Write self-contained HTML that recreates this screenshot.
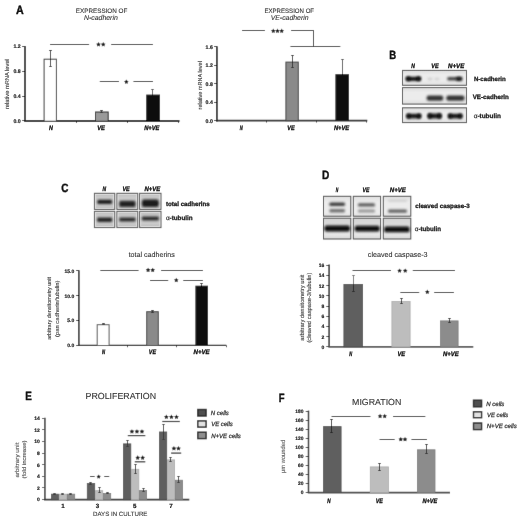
<!DOCTYPE html>
<html><head><meta charset="utf-8"><style>
html,body{margin:0;padding:0;background:#fff;}
svg{display:block;filter:grayscale(1);}
text{font-family:"Liberation Sans", sans-serif;text-rendering:geometricPrecision;}
</style></head><body>
<svg width="520" height="520" viewBox="0 0 520 520">
<defs><filter id="gb" x="0" y="0" width="520" height="520" filterUnits="userSpaceOnUse"><feConvolveMatrix order="3" kernelMatrix="0 1 0 1 10 1 0 1 0" edgeMode="duplicate" preserveAlpha="true"/></filter>
<filter id="bl" x="-30%" y="-80%" width="160%" height="260%"><feGaussianBlur stdDeviation="0.85"/></filter>
<linearGradient id="gB" x1="0" y1="0" x2="0" y2="1"><stop offset="0" stop-color="#dedede"/><stop offset="0.3" stop-color="#ececec"/><stop offset="0.7" stop-color="#ececec"/><stop offset="1" stop-color="#dedede"/></linearGradient>
<linearGradient id="gC" x1="0" y1="0" x2="0" y2="1"><stop offset="0" stop-color="#b8b8b8"/><stop offset="0.25" stop-color="#cbcbcb"/><stop offset="0.75" stop-color="#cbcbcb"/><stop offset="1" stop-color="#b8b8b8"/></linearGradient>
<linearGradient id="gD1" x1="0" y1="0" x2="0" y2="1"><stop offset="0" stop-color="#e0e0e0"/><stop offset="0.3" stop-color="#ececec"/><stop offset="0.8" stop-color="#ececec"/><stop offset="1" stop-color="#e2e2e2"/></linearGradient>
<linearGradient id="gD2" x1="0" y1="0" x2="0" y2="1"><stop offset="0" stop-color="#d4d4d4"/><stop offset="0.4" stop-color="#dcdcdc"/><stop offset="0.8" stop-color="#e6e6e6"/><stop offset="1" stop-color="#d8d8d8"/></linearGradient>
</defs>
<rect width="520" height="520" fill="#fff"/>
<g filter="url(#gb)">
<rect width="520" height="520" fill="#fff"/>
<line x1="25.00" y1="46.00" x2="25.00" y2="121.90" stroke="#2a2a2a" stroke-width="1.8"/>
<line x1="22.10" y1="46.50" x2="25.00" y2="46.50" stroke="#2a2a2a" stroke-width="1"/>
<line x1="22.10" y1="71.50" x2="25.00" y2="71.50" stroke="#2a2a2a" stroke-width="1"/>
<line x1="22.10" y1="96.50" x2="25.00" y2="96.50" stroke="#2a2a2a" stroke-width="1"/>
<line x1="22.10" y1="120.50" x2="25.00" y2="120.50" stroke="#2a2a2a" stroke-width="1"/>
<line x1="24.10" y1="121.00" x2="179.50" y2="121.00" stroke="#2a2a2a" stroke-width="1.8"/>
<line x1="76.50" y1="121.25" x2="76.50" y2="123.00" stroke="#2a2a2a" stroke-width="1"/>
<line x1="127.50" y1="121.25" x2="127.50" y2="123.00" stroke="#2a2a2a" stroke-width="1"/>
<line x1="178.50" y1="121.25" x2="178.50" y2="123.00" stroke="#2a2a2a" stroke-width="1"/>
<line x1="50.50" y1="50.80" x2="50.50" y2="66.00" stroke="#333" stroke-width="1"/>
<line x1="49.20" y1="50.50" x2="51.80" y2="50.50" stroke="#333" stroke-width="1"/>
<line x1="49.20" y1="66.50" x2="51.80" y2="66.50" stroke="#333" stroke-width="1"/>
<rect x="44.10" y="59.20" width="12.30" height="62.05" fill="#fff" stroke="#3a3a3a" stroke-width="1"/>
<line x1="50.50" y1="50.80" x2="50.50" y2="66.00" stroke="#333" stroke-width="1"/>
<line x1="49.20" y1="50.50" x2="51.80" y2="50.50" stroke="#333" stroke-width="1"/>
<line x1="49.20" y1="66.50" x2="51.80" y2="66.50" stroke="#333" stroke-width="1"/>
<rect x="95.50" y="112.00" width="12.70" height="9.25" fill="#9a9a9a" stroke="#2a2a2a" stroke-width="1"/>
<line x1="101.50" y1="110.60" x2="101.50" y2="112.40" stroke="#333" stroke-width="1"/>
<line x1="100.10" y1="110.50" x2="102.90" y2="110.50" stroke="#333" stroke-width="1"/>
<line x1="100.10" y1="112.50" x2="102.90" y2="112.50" stroke="#333" stroke-width="1"/>
<line x1="152.50" y1="89.20" x2="152.50" y2="99.00" stroke="#555" stroke-width="1"/>
<line x1="151.20" y1="89.50" x2="153.80" y2="89.50" stroke="#555" stroke-width="1"/>
<line x1="151.20" y1="98.50" x2="153.80" y2="98.50" stroke="#555" stroke-width="1"/>
<rect x="146.20" y="94.60" width="13.80" height="26.65" fill="#0a0a0a"/>
<line x1="50.00" y1="44.50" x2="89.10" y2="44.50" stroke="#2a2a2a" stroke-width="1"/>
<polygon points="98.48,42.10 99.26,43.43 100.76,43.76 99.74,44.91 99.89,46.44 98.48,45.82 97.07,46.44 97.22,44.91 96.20,43.76 97.70,43.43" fill="#1a1a1a"/>
<polygon points="103.22,42.10 104.00,43.43 105.50,43.76 104.48,44.91 104.63,46.44 103.22,45.82 101.81,46.44 101.96,44.91 100.94,43.76 102.44,43.43" fill="#1a1a1a"/>
<line x1="111.20" y1="44.50" x2="152.90" y2="44.50" stroke="#2a2a2a" stroke-width="1"/>
<line x1="99.80" y1="81.50" x2="119.00" y2="81.50" stroke="#2a2a2a" stroke-width="1"/>
<polygon points="126.35,79.50 127.13,80.83 128.63,81.16 127.61,82.31 127.76,83.84 126.35,83.22 124.94,83.84 125.09,82.31 124.07,81.16 125.57,80.83" fill="#1a1a1a"/>
<line x1="133.50" y1="81.50" x2="153.00" y2="81.50" stroke="#2a2a2a" stroke-width="1"/>
<line x1="216.90" y1="46.20" x2="216.90" y2="121.50" stroke="#2a2a2a" stroke-width="1.8"/>
<line x1="214.00" y1="46.50" x2="216.90" y2="46.50" stroke="#2a2a2a" stroke-width="1"/>
<line x1="214.00" y1="65.50" x2="216.90" y2="65.50" stroke="#2a2a2a" stroke-width="1"/>
<line x1="214.00" y1="83.50" x2="216.90" y2="83.50" stroke="#2a2a2a" stroke-width="1"/>
<line x1="214.00" y1="102.50" x2="216.90" y2="102.50" stroke="#2a2a2a" stroke-width="1"/>
<line x1="214.00" y1="120.50" x2="216.90" y2="120.50" stroke="#2a2a2a" stroke-width="1"/>
<line x1="216.00" y1="120.70" x2="367.30" y2="120.70" stroke="#2a2a2a" stroke-width="1.8"/>
<line x1="266.50" y1="120.70" x2="266.50" y2="122.50" stroke="#2a2a2a" stroke-width="1"/>
<line x1="316.50" y1="120.70" x2="316.50" y2="122.50" stroke="#2a2a2a" stroke-width="1"/>
<line x1="366.50" y1="120.70" x2="366.50" y2="122.50" stroke="#2a2a2a" stroke-width="1"/>
<rect x="285.90" y="62.10" width="12.40" height="58.60" fill="#8a8a8a" stroke="#444" stroke-width="1"/>
<line x1="292.50" y1="55.40" x2="292.50" y2="67.30" stroke="#333" stroke-width="1"/>
<line x1="291.20" y1="55.50" x2="293.80" y2="55.50" stroke="#333" stroke-width="1"/>
<line x1="291.20" y1="67.50" x2="293.80" y2="67.50" stroke="#333" stroke-width="1"/>
<line x1="342.50" y1="59.50" x2="342.50" y2="89.00" stroke="#555" stroke-width="1"/>
<line x1="341.20" y1="59.50" x2="343.80" y2="59.50" stroke="#555" stroke-width="1"/>
<line x1="341.20" y1="88.50" x2="343.80" y2="88.50" stroke="#555" stroke-width="1"/>
<rect x="335.40" y="74.20" width="13.60" height="46.50" fill="#0a0a0a"/>
<line x1="242.00" y1="30.50" x2="264.90" y2="30.50" stroke="#2a2a2a" stroke-width="1"/>
<polygon points="273.28,28.60 274.06,29.93 275.56,30.26 274.54,31.41 274.69,32.94 273.28,32.32 271.87,32.94 272.02,31.41 271.00,30.26 272.50,29.93" fill="#1a1a1a"/>
<polygon points="277.50,28.60 278.28,29.93 279.78,30.26 278.76,31.41 278.91,32.94 277.50,32.32 276.09,32.94 276.24,31.41 275.22,30.26 276.72,29.93" fill="#1a1a1a"/>
<polygon points="281.72,28.60 282.50,29.93 284.00,30.26 282.98,31.41 283.13,32.94 281.72,32.32 280.31,32.94 280.46,31.41 279.44,30.26 280.94,29.93" fill="#1a1a1a"/>
<line x1="291.10" y1="30.50" x2="313.80" y2="30.50" stroke="#2a2a2a" stroke-width="1"/>
<line x1="313.50" y1="30.50" x2="313.50" y2="46.20" stroke="#2a2a2a" stroke-width="1"/>
<line x1="290.50" y1="46.50" x2="340.30" y2="46.50" stroke="#2a2a2a" stroke-width="1"/>
<rect x="402.50" y="70.40" width="64.00" height="14.90" fill="url(#gB)" stroke="#4a4a4a" stroke-width="1.0"/>
<rect x="402.50" y="87.60" width="64.00" height="16.50" fill="url(#gB)" stroke="#4a4a4a" stroke-width="1.0"/>
<rect x="402.50" y="107.80" width="64.00" height="14.80" fill="url(#gB)" stroke="#4a4a4a" stroke-width="1.0"/>
<rect x="405.90" y="76.70" width="15.00" height="4.20" rx="1.68" ry="2.10" fill="#141414" opacity="1.0" filter="url(#bl)"/>
<rect x="405.90" y="76.50" width="4.70" height="4.60" rx="1.84" ry="2.30" fill="#0a0a0a" opacity="1.0" filter="url(#bl)"/>
<rect x="416.20" y="76.50" width="4.70" height="4.60" rx="1.84" ry="2.30" fill="#0a0a0a" opacity="1.0" filter="url(#bl)"/>
<rect x="427.40" y="77.50" width="5.20" height="3.00" rx="1.20" ry="1.50" fill="#cfcfcf" opacity="0.9" filter="url(#bl)"/>
<rect x="434.40" y="77.50" width="5.20" height="3.00" rx="1.20" ry="1.50" fill="#d2d2d2" opacity="0.9" filter="url(#bl)"/>
<rect x="447.20" y="77.10" width="15.00" height="3.40" rx="1.36" ry="1.70" fill="#444" opacity="1" filter="url(#bl)"/>
<rect x="455.90" y="76.70" width="6.30" height="4.20" rx="1.68" ry="2.10" fill="#1a1a1a" opacity="0.9" filter="url(#bl)"/>
<rect x="426.60" y="95.40" width="16.70" height="5.40" rx="2.16" ry="2.70" fill="#333" opacity="1.0" filter="url(#bl)"/>
<rect x="446.30" y="95.40" width="18.20" height="5.40" rx="2.16" ry="2.70" fill="#333" opacity="1.0" filter="url(#bl)"/>
<rect x="406.40" y="113.80" width="14.80" height="4.60" rx="1.84" ry="2.30" fill="#151515" opacity="1.0" filter="url(#bl)"/>
<rect x="406.40" y="113.60" width="4.20" height="5.00" rx="2.00" ry="2.50" fill="#0a0a0a" opacity="1.0" filter="url(#bl)"/>
<rect x="417.00" y="113.60" width="4.20" height="5.00" rx="2.00" ry="2.50" fill="#0a0a0a" opacity="1.0" filter="url(#bl)"/>
<rect x="427.60" y="113.60" width="14.00" height="5.00" rx="2.00" ry="2.50" fill="#151515" opacity="1.0" filter="url(#bl)"/>
<rect x="427.60" y="113.30" width="4.20" height="5.40" rx="2.16" ry="2.70" fill="#0a0a0a" opacity="1.0" filter="url(#bl)"/>
<rect x="437.40" y="113.30" width="4.20" height="5.40" rx="2.16" ry="2.70" fill="#0a0a0a" opacity="1.0" filter="url(#bl)"/>
<rect x="448.00" y="113.80" width="14.40" height="4.60" rx="1.84" ry="2.30" fill="#151515" opacity="1.0" filter="url(#bl)"/>
<rect x="448.00" y="113.60" width="4.20" height="5.00" rx="2.00" ry="2.50" fill="#0a0a0a" opacity="1.0" filter="url(#bl)"/>
<rect x="458.20" y="113.60" width="4.20" height="5.00" rx="2.00" ry="2.50" fill="#0a0a0a" opacity="1.0" filter="url(#bl)"/>
<rect x="94.40" y="193.30" width="20.35" height="16.10" fill="url(#gC)" stroke="#505050" stroke-width="1.0"/>
<rect x="95.50" y="194.40" width="18.15" height="13.90" fill="none" stroke="#e6e6e6" stroke-width="0.8"/>
<rect x="94.40" y="211.30" width="20.35" height="16.30" fill="url(#gC)" stroke="#505050" stroke-width="1.0"/>
<rect x="95.50" y="212.40" width="18.15" height="14.10" fill="none" stroke="#e6e6e6" stroke-width="0.8"/>
<rect x="116.90" y="193.30" width="20.85" height="16.10" fill="url(#gC)" stroke="#505050" stroke-width="1.0"/>
<rect x="118.00" y="194.40" width="18.65" height="13.90" fill="none" stroke="#e6e6e6" stroke-width="0.8"/>
<rect x="116.90" y="211.30" width="20.85" height="16.30" fill="url(#gC)" stroke="#505050" stroke-width="1.0"/>
<rect x="118.00" y="212.40" width="18.65" height="14.10" fill="none" stroke="#e6e6e6" stroke-width="0.8"/>
<rect x="139.60" y="193.30" width="21.40" height="16.10" fill="url(#gC)" stroke="#505050" stroke-width="1.0"/>
<rect x="140.70" y="194.40" width="19.20" height="13.90" fill="none" stroke="#e6e6e6" stroke-width="0.8"/>
<rect x="139.60" y="211.30" width="21.40" height="16.30" fill="url(#gC)" stroke="#505050" stroke-width="1.0"/>
<rect x="140.70" y="212.40" width="19.20" height="14.10" fill="none" stroke="#e6e6e6" stroke-width="0.8"/>
<rect x="97.20" y="199.70" width="15.00" height="4.40" rx="1.10" ry="2.20" fill="#1e1e1e" opacity="1" filter="url(#bl)"/>
<rect x="119.20" y="200.70" width="16.40" height="6.40" rx="1.60" ry="3.20" fill="#222" opacity="1" filter="url(#bl)"/>
<rect x="141.80" y="199.50" width="17.10" height="7.60" rx="1.90" ry="3.80" fill="#1c1c1c" opacity="1" filter="url(#bl)"/>
<rect x="97.00" y="217.50" width="15.40" height="4.60" rx="1.38" ry="2.30" fill="#222" opacity="1" filter="url(#bl)"/>
<rect x="119.20" y="217.60" width="16.40" height="4.00" rx="1.00" ry="2.00" fill="#2a2a2a" opacity="1" filter="url(#bl)"/>
<rect x="141.80" y="216.40" width="17.10" height="4.00" rx="1.00" ry="2.00" fill="#2a2a2a" opacity="1" filter="url(#bl)"/>
<line x1="78.90" y1="270.20" x2="78.90" y2="346.10" stroke="#111" stroke-width="1.4"/>
<line x1="76.20" y1="270.50" x2="78.90" y2="270.50" stroke="#111" stroke-width="1"/>
<line x1="76.20" y1="295.50" x2="78.90" y2="295.50" stroke="#111" stroke-width="1"/>
<line x1="76.20" y1="320.50" x2="78.90" y2="320.50" stroke="#111" stroke-width="1"/>
<line x1="76.20" y1="345.50" x2="78.90" y2="345.50" stroke="#111" stroke-width="1"/>
<line x1="78.20" y1="345.45" x2="226.30" y2="345.45" stroke="#111" stroke-width="1.3"/>
<line x1="127.50" y1="345.50" x2="127.50" y2="347.20" stroke="#2a2a2a" stroke-width="1"/>
<line x1="176.50" y1="345.50" x2="176.50" y2="347.20" stroke="#2a2a2a" stroke-width="1"/>
<line x1="226.50" y1="345.50" x2="226.50" y2="347.20" stroke="#2a2a2a" stroke-width="1"/>
<rect x="97.20" y="324.70" width="11.90" height="20.80" fill="#fff" stroke="#555" stroke-width="1"/>
<line x1="103.50" y1="323.40" x2="103.50" y2="325.00" stroke="#333" stroke-width="1"/>
<line x1="102.20" y1="323.50" x2="104.80" y2="323.50" stroke="#333" stroke-width="1"/>
<line x1="102.20" y1="324.50" x2="104.80" y2="324.50" stroke="#333" stroke-width="1"/>
<rect x="146.70" y="311.70" width="11.60" height="33.80" fill="#8a8a8a" stroke="#444" stroke-width="1"/>
<line x1="152.50" y1="310.20" x2="152.50" y2="312.40" stroke="#333" stroke-width="1"/>
<line x1="151.20" y1="310.50" x2="153.80" y2="310.50" stroke="#333" stroke-width="1"/>
<line x1="151.20" y1="312.50" x2="153.80" y2="312.50" stroke="#333" stroke-width="1"/>
<line x1="201.50" y1="283.70" x2="201.50" y2="288.00" stroke="#333" stroke-width="1"/>
<line x1="200.20" y1="283.50" x2="202.80" y2="283.50" stroke="#333" stroke-width="1"/>
<line x1="200.20" y1="288.50" x2="202.80" y2="288.50" stroke="#333" stroke-width="1"/>
<rect x="195.40" y="285.70" width="12.60" height="59.80" fill="#0a0a0a"/>
<line x1="100.40" y1="270.50" x2="138.50" y2="270.50" stroke="#2a2a2a" stroke-width="1"/>
<polygon points="148.08,267.70 148.86,269.03 150.36,269.36 149.34,270.51 149.49,272.04 148.08,271.42 146.67,272.04 146.82,270.51 145.80,269.36 147.30,269.03" fill="#1a1a1a"/>
<polygon points="152.72,267.70 153.50,269.03 155.00,269.36 153.98,270.51 154.13,272.04 152.72,271.42 151.31,272.04 151.46,270.51 150.44,269.36 151.94,269.03" fill="#1a1a1a"/>
<line x1="161.10" y1="270.50" x2="202.90" y2="270.50" stroke="#2a2a2a" stroke-width="1"/>
<line x1="150.00" y1="280.50" x2="168.20" y2="280.50" stroke="#2a2a2a" stroke-width="1"/>
<polygon points="176.25,277.80 177.03,279.13 178.53,279.46 177.51,280.61 177.66,282.14 176.25,281.52 174.84,282.14 174.99,280.61 173.97,279.46 175.47,279.13" fill="#1a1a1a"/>
<line x1="183.30" y1="280.50" x2="202.90" y2="280.50" stroke="#2a2a2a" stroke-width="1"/>
<rect x="323.50" y="196.30" width="27.30" height="19.90" fill="url(#gD1)" stroke="#4a4a4a" stroke-width="1.0"/>
<rect x="323.50" y="218.20" width="27.30" height="20.80" fill="url(#gD2)" stroke="#4a4a4a" stroke-width="1.0"/>
<rect x="353.30" y="196.30" width="27.30" height="19.90" fill="url(#gD1)" stroke="#4a4a4a" stroke-width="1.0"/>
<rect x="353.30" y="218.20" width="27.30" height="20.80" fill="url(#gD2)" stroke="#4a4a4a" stroke-width="1.0"/>
<rect x="383.30" y="196.30" width="27.50" height="19.90" fill="url(#gD1)" stroke="#4a4a4a" stroke-width="1.0"/>
<rect x="383.30" y="218.20" width="27.50" height="20.80" fill="url(#gD2)" stroke="#4a4a4a" stroke-width="1.0"/>
<rect x="329.30" y="202.50" width="15.80" height="3.40" rx="1.36" ry="1.70" fill="#3a3a3a" opacity="1.0" filter="url(#bl)"/>
<rect x="329.30" y="209.00" width="15.80" height="3.40" rx="1.36" ry="1.70" fill="#707070" opacity="1.0" filter="url(#bl)"/>
<rect x="357.90" y="203.30" width="17.20" height="3.20" rx="1.28" ry="1.60" fill="#5a5a5a" opacity="1.0" filter="url(#bl)"/>
<rect x="357.90" y="209.40" width="17.20" height="3.20" rx="1.28" ry="1.60" fill="#939393" opacity="1.0" filter="url(#bl)"/>
<rect x="387.90" y="199.50" width="19.20" height="2.20" rx="0.88" ry="1.10" fill="#cfcfcf" opacity="1.0" filter="url(#bl)"/>
<rect x="387.90" y="209.40" width="19.20" height="3.40" rx="1.36" ry="1.70" fill="#5f5f5f" opacity="1.0" filter="url(#bl)"/>
<rect x="324.40" y="225.60" width="25.70" height="5.80" rx="2.32" ry="2.90" fill="#0d0d0d" opacity="1.0" filter="url(#bl)"/>
<rect x="354.60" y="225.70" width="25.20" height="5.80" rx="2.32" ry="2.90" fill="#0d0d0d" opacity="1.0" filter="url(#bl)"/>
<rect x="384.10" y="226.50" width="25.60" height="5.80" rx="2.32" ry="2.90" fill="#0d0d0d" opacity="1.0" filter="url(#bl)"/>
<line x1="329.10" y1="264.60" x2="329.10" y2="346.50" stroke="#333" stroke-width="1.6"/>
<line x1="326.30" y1="346.50" x2="329.10" y2="346.50" stroke="#333" stroke-width="1"/>
<line x1="326.30" y1="336.50" x2="329.10" y2="336.50" stroke="#333" stroke-width="1"/>
<line x1="326.30" y1="326.50" x2="329.10" y2="326.50" stroke="#333" stroke-width="1"/>
<line x1="326.30" y1="316.50" x2="329.10" y2="316.50" stroke="#333" stroke-width="1"/>
<line x1="326.30" y1="306.50" x2="329.10" y2="306.50" stroke="#333" stroke-width="1"/>
<line x1="326.30" y1="295.50" x2="329.10" y2="295.50" stroke="#333" stroke-width="1"/>
<line x1="326.30" y1="285.50" x2="329.10" y2="285.50" stroke="#333" stroke-width="1"/>
<line x1="326.30" y1="275.50" x2="329.10" y2="275.50" stroke="#333" stroke-width="1"/>
<line x1="326.30" y1="265.50" x2="329.10" y2="265.50" stroke="#333" stroke-width="1"/>
<line x1="328.30" y1="346.80" x2="473.30" y2="346.80" stroke="#555" stroke-width="1.7"/>
<line x1="353.50" y1="275.80" x2="353.50" y2="291.20" stroke="#777" stroke-width="1"/>
<line x1="352.20" y1="275.50" x2="354.80" y2="275.50" stroke="#777" stroke-width="1"/>
<line x1="352.20" y1="291.50" x2="354.80" y2="291.50" stroke="#777" stroke-width="1"/>
<rect x="343.90" y="284.40" width="18.70" height="62.50" fill="#5e5e5e" stroke="#4a4a4a" stroke-width="0.8"/>
<line x1="353.50" y1="284.50" x2="353.50" y2="291.20" stroke="#2a2a2a" stroke-width="1"/>
<line x1="352.00" y1="291.50" x2="354.80" y2="291.50" stroke="#2a2a2a" stroke-width="1"/>
<rect x="391.90" y="301.50" width="18.20" height="45.40" fill="#bdbdbd" stroke="#ababab" stroke-width="0.8"/>
<line x1="401.50" y1="298.00" x2="401.50" y2="303.80" stroke="#333" stroke-width="1"/>
<line x1="400.20" y1="298.50" x2="402.80" y2="298.50" stroke="#333" stroke-width="1"/>
<line x1="400.20" y1="303.50" x2="402.80" y2="303.50" stroke="#333" stroke-width="1"/>
<rect x="440.50" y="320.90" width="17.60" height="26.00" fill="#8c8c8c" stroke="#7a7a7a" stroke-width="0.8"/>
<line x1="449.50" y1="318.20" x2="449.50" y2="322.20" stroke="#333" stroke-width="1"/>
<line x1="448.20" y1="318.50" x2="450.80" y2="318.50" stroke="#333" stroke-width="1"/>
<line x1="448.20" y1="322.50" x2="450.80" y2="322.50" stroke="#333" stroke-width="1"/>
<line x1="352.60" y1="270.50" x2="391.00" y2="270.50" stroke="#2a2a2a" stroke-width="1"/>
<polygon points="399.58,268.40 400.36,269.73 401.86,270.06 400.84,271.21 400.99,272.74 399.58,272.12 398.17,272.74 398.32,271.21 397.30,270.06 398.80,269.73" fill="#1a1a1a"/>
<polygon points="405.22,268.40 406.00,269.73 407.50,270.06 406.48,271.21 406.63,272.74 405.22,272.12 403.81,272.74 403.96,271.21 402.94,270.06 404.44,269.73" fill="#1a1a1a"/>
<line x1="412.80" y1="270.50" x2="455.00" y2="270.50" stroke="#2a2a2a" stroke-width="1"/>
<line x1="400.40" y1="292.50" x2="419.20" y2="292.50" stroke="#2a2a2a" stroke-width="1"/>
<polygon points="427.30,289.60 428.08,290.93 429.58,291.26 428.56,292.41 428.71,293.94 427.30,293.32 425.89,293.94 426.04,292.41 425.02,291.26 426.52,290.93" fill="#1a1a1a"/>
<line x1="434.20" y1="292.50" x2="453.90" y2="292.50" stroke="#2a2a2a" stroke-width="1"/>
<line x1="44.90" y1="417.80" x2="44.90" y2="499.00" stroke="#555" stroke-width="1.8"/>
<line x1="42.00" y1="499.50" x2="44.90" y2="499.50" stroke="#555" stroke-width="1"/>
<line x1="42.00" y1="487.50" x2="44.90" y2="487.50" stroke="#555" stroke-width="1"/>
<line x1="42.00" y1="476.50" x2="44.90" y2="476.50" stroke="#555" stroke-width="1"/>
<line x1="42.00" y1="464.50" x2="44.90" y2="464.50" stroke="#555" stroke-width="1"/>
<line x1="42.00" y1="453.50" x2="44.90" y2="453.50" stroke="#555" stroke-width="1"/>
<line x1="42.00" y1="441.50" x2="44.90" y2="441.50" stroke="#555" stroke-width="1"/>
<line x1="42.00" y1="429.50" x2="44.90" y2="429.50" stroke="#555" stroke-width="1"/>
<line x1="42.00" y1="418.50" x2="44.90" y2="418.50" stroke="#555" stroke-width="1"/>
<line x1="44.00" y1="499.60" x2="189.30" y2="499.60" stroke="#333" stroke-width="1.6"/>
<rect x="51.50" y="494.19" width="7.00" height="5.51" fill="#5e5e5e" stroke="#4a4a4a" stroke-width="0.8"/>
<rect x="59.30" y="494.19" width="7.30" height="5.51" fill="#bdbdbd" stroke="#ababab" stroke-width="0.8"/>
<rect x="67.40" y="494.19" width="7.30" height="5.51" fill="#8c8c8c" stroke="#7a7a7a" stroke-width="0.8"/>
<rect x="87.30" y="483.55" width="7.40" height="16.15" fill="#5e5e5e" stroke="#4a4a4a" stroke-width="0.8"/>
<rect x="95.50" y="490.70" width="7.20" height="9.00" fill="#bdbdbd" stroke="#ababab" stroke-width="0.8"/>
<rect x="103.50" y="493.49" width="7.20" height="6.21" fill="#8c8c8c" stroke="#7a7a7a" stroke-width="0.8"/>
<rect x="123.50" y="443.89" width="7.30" height="55.81" fill="#5e5e5e" stroke="#4a4a4a" stroke-width="0.8"/>
<rect x="131.60" y="469.30" width="7.20" height="30.40" fill="#bdbdbd" stroke="#ababab" stroke-width="0.8"/>
<rect x="139.60" y="490.41" width="7.00" height="9.29" fill="#8c8c8c" stroke="#7a7a7a" stroke-width="0.8"/>
<rect x="159.50" y="431.98" width="7.20" height="67.72" fill="#5e5e5e" stroke="#4a4a4a" stroke-width="0.8"/>
<rect x="167.50" y="459.88" width="7.10" height="39.82" fill="#bdbdbd" stroke="#ababab" stroke-width="0.8"/>
<rect x="175.40" y="480.23" width="7.20" height="19.47" fill="#8c8c8c" stroke="#7a7a7a" stroke-width="0.8"/>
<line x1="54.50" y1="493.50" x2="54.50" y2="494.08" stroke="#3a3a3a" stroke-width="1"/>
<line x1="53.30" y1="493.50" x2="55.70" y2="493.50" stroke="#3a3a3a" stroke-width="1"/>
<line x1="53.30" y1="494.50" x2="55.70" y2="494.50" stroke="#3a3a3a" stroke-width="1"/>
<line x1="62.50" y1="493.50" x2="62.50" y2="494.08" stroke="#3a3a3a" stroke-width="1"/>
<line x1="61.30" y1="493.50" x2="63.70" y2="493.50" stroke="#3a3a3a" stroke-width="1"/>
<line x1="61.30" y1="494.50" x2="63.70" y2="494.50" stroke="#3a3a3a" stroke-width="1"/>
<line x1="70.50" y1="493.50" x2="70.50" y2="494.08" stroke="#3a3a3a" stroke-width="1"/>
<line x1="69.30" y1="493.50" x2="71.70" y2="493.50" stroke="#3a3a3a" stroke-width="1"/>
<line x1="69.30" y1="494.50" x2="71.70" y2="494.50" stroke="#3a3a3a" stroke-width="1"/>
<line x1="90.50" y1="482.16" x2="90.50" y2="484.19" stroke="#3a3a3a" stroke-width="1"/>
<line x1="89.30" y1="482.50" x2="91.70" y2="482.50" stroke="#3a3a3a" stroke-width="1"/>
<line x1="89.30" y1="484.50" x2="91.70" y2="484.50" stroke="#3a3a3a" stroke-width="1"/>
<line x1="99.50" y1="487.97" x2="99.50" y2="492.62" stroke="#3a3a3a" stroke-width="1"/>
<line x1="98.30" y1="487.50" x2="100.70" y2="487.50" stroke="#3a3a3a" stroke-width="1"/>
<line x1="98.30" y1="492.50" x2="100.70" y2="492.50" stroke="#3a3a3a" stroke-width="1"/>
<line x1="107.50" y1="492.62" x2="107.50" y2="493.55" stroke="#3a3a3a" stroke-width="1"/>
<line x1="106.30" y1="492.50" x2="108.70" y2="492.50" stroke="#3a3a3a" stroke-width="1"/>
<line x1="106.30" y1="493.50" x2="108.70" y2="493.50" stroke="#3a3a3a" stroke-width="1"/>
<line x1="127.50" y1="440.88" x2="127.50" y2="446.11" stroke="#3a3a3a" stroke-width="1"/>
<line x1="126.30" y1="440.50" x2="128.70" y2="440.50" stroke="#3a3a3a" stroke-width="1"/>
<line x1="126.30" y1="446.50" x2="128.70" y2="446.50" stroke="#3a3a3a" stroke-width="1"/>
<line x1="135.50" y1="464.72" x2="135.50" y2="473.44" stroke="#3a3a3a" stroke-width="1"/>
<line x1="134.30" y1="464.50" x2="136.70" y2="464.50" stroke="#3a3a3a" stroke-width="1"/>
<line x1="134.30" y1="473.50" x2="136.70" y2="473.50" stroke="#3a3a3a" stroke-width="1"/>
<line x1="143.50" y1="488.55" x2="143.50" y2="491.46" stroke="#3a3a3a" stroke-width="1"/>
<line x1="142.30" y1="488.50" x2="144.70" y2="488.50" stroke="#3a3a3a" stroke-width="1"/>
<line x1="142.30" y1="491.50" x2="144.70" y2="491.50" stroke="#3a3a3a" stroke-width="1"/>
<line x1="163.50" y1="424.60" x2="163.50" y2="439.72" stroke="#3a3a3a" stroke-width="1"/>
<line x1="162.30" y1="424.50" x2="164.70" y2="424.50" stroke="#3a3a3a" stroke-width="1"/>
<line x1="162.30" y1="439.50" x2="164.70" y2="439.50" stroke="#3a3a3a" stroke-width="1"/>
<line x1="170.50" y1="457.16" x2="170.50" y2="461.81" stroke="#3a3a3a" stroke-width="1"/>
<line x1="169.30" y1="457.50" x2="171.70" y2="457.50" stroke="#3a3a3a" stroke-width="1"/>
<line x1="169.30" y1="461.50" x2="171.70" y2="461.50" stroke="#3a3a3a" stroke-width="1"/>
<line x1="178.50" y1="476.93" x2="178.50" y2="482.74" stroke="#3a3a3a" stroke-width="1"/>
<line x1="177.30" y1="476.50" x2="179.70" y2="476.50" stroke="#3a3a3a" stroke-width="1"/>
<line x1="177.30" y1="482.50" x2="179.70" y2="482.50" stroke="#3a3a3a" stroke-width="1"/>
<line x1="90.00" y1="476.50" x2="94.60" y2="476.50" stroke="#2a2a2a" stroke-width="1"/>
<polygon points="98.70,474.40 99.44,475.68 100.89,475.99 99.90,477.09 100.05,478.56 98.70,477.96 97.35,478.56 97.50,477.09 96.51,475.99 97.96,475.68" fill="#1a1a1a"/>
<line x1="104.30" y1="476.50" x2="109.20" y2="476.50" stroke="#2a2a2a" stroke-width="1"/>
<polygon points="131.93,429.15 132.72,430.51 134.26,430.84 133.21,432.02 133.37,433.58 131.93,432.95 130.49,433.58 130.65,432.02 129.60,430.84 131.14,430.51" fill="#1a1a1a"/>
<polygon points="136.95,429.15 137.74,430.51 139.28,430.84 138.23,432.02 138.39,433.58 136.95,432.95 135.51,433.58 135.67,432.02 134.62,430.84 136.16,430.51" fill="#1a1a1a"/>
<polygon points="141.97,429.15 142.76,430.51 144.30,430.84 143.25,432.02 143.41,433.58 141.97,432.95 140.53,433.58 140.69,432.02 139.64,430.84 141.18,430.51" fill="#1a1a1a"/>
<line x1="127.80" y1="435.60" x2="145.30" y2="435.60" stroke="#2a2a2a" stroke-width="1.2"/>
<polygon points="137.73,455.35 138.52,456.71 140.06,457.04 139.01,458.22 139.17,459.78 137.73,459.15 136.29,459.78 136.45,458.22 135.40,457.04 136.94,456.71" fill="#1a1a1a"/>
<polygon points="142.67,455.35 143.46,456.71 145.00,457.04 143.95,458.22 144.11,459.78 142.67,459.15 141.23,459.78 141.39,458.22 140.34,457.04 141.88,456.71" fill="#1a1a1a"/>
<line x1="134.80" y1="461.80" x2="145.30" y2="461.80" stroke="#2a2a2a" stroke-width="1.2"/>
<polygon points="166.33,414.55 167.12,415.91 168.66,416.24 167.61,417.42 167.77,418.98 166.33,418.35 164.89,418.98 165.05,417.42 164.00,416.24 165.54,415.91" fill="#1a1a1a"/>
<polygon points="171.40,414.55 172.19,415.91 173.73,416.24 172.68,417.42 172.84,418.98 171.40,418.35 169.96,418.98 170.12,417.42 169.07,416.24 170.61,415.91" fill="#1a1a1a"/>
<polygon points="176.47,414.55 177.26,415.91 178.80,416.24 177.75,417.42 177.91,418.98 176.47,418.35 175.03,418.98 175.19,417.42 174.14,416.24 175.68,415.91" fill="#1a1a1a"/>
<line x1="162.30" y1="421.50" x2="179.80" y2="421.50" stroke="#2a2a2a" stroke-width="1.2"/>
<polygon points="173.93,446.05 174.72,447.41 176.26,447.74 175.21,448.92 175.37,450.48 173.93,449.85 172.49,450.48 172.65,448.92 171.60,447.74 173.14,447.41" fill="#1a1a1a"/>
<polygon points="178.47,446.05 179.26,447.41 180.80,447.74 179.75,448.92 179.91,450.48 178.47,449.85 177.03,450.48 177.19,448.92 176.14,447.74 177.68,447.41" fill="#1a1a1a"/>
<line x1="171.10" y1="453.10" x2="181.20" y2="453.10" stroke="#2a2a2a" stroke-width="1.2"/>
<rect x="197.80" y="409.50" width="8.30" height="6.50" fill="#505050" stroke="#222" stroke-width="1.4"/>
<rect x="197.80" y="420.90" width="8.30" height="6.20" fill="#e2e2e2" stroke="#222" stroke-width="1.4"/>
<rect x="197.80" y="432.20" width="8.30" height="6.40" fill="#8e8e8e" stroke="#222" stroke-width="1.4"/>
<line x1="308.50" y1="410.60" x2="308.50" y2="492.00" stroke="#333" stroke-width="1.5"/>
<line x1="305.75" y1="492.50" x2="308.50" y2="492.50" stroke="#333" stroke-width="1"/>
<line x1="305.75" y1="483.50" x2="308.50" y2="483.50" stroke="#333" stroke-width="1"/>
<line x1="305.75" y1="474.50" x2="308.50" y2="474.50" stroke="#333" stroke-width="1"/>
<line x1="305.75" y1="465.50" x2="308.50" y2="465.50" stroke="#333" stroke-width="1"/>
<line x1="305.75" y1="456.50" x2="308.50" y2="456.50" stroke="#333" stroke-width="1"/>
<line x1="305.75" y1="447.50" x2="308.50" y2="447.50" stroke="#333" stroke-width="1"/>
<line x1="305.75" y1="438.50" x2="308.50" y2="438.50" stroke="#333" stroke-width="1"/>
<line x1="305.75" y1="429.50" x2="308.50" y2="429.50" stroke="#333" stroke-width="1"/>
<line x1="305.75" y1="420.50" x2="308.50" y2="420.50" stroke="#333" stroke-width="1"/>
<line x1="305.75" y1="411.50" x2="308.50" y2="411.50" stroke="#333" stroke-width="1"/>
<line x1="307.80" y1="492.60" x2="450.00" y2="492.60" stroke="#444" stroke-width="1.6"/>
<rect x="323.50" y="426.60" width="17.60" height="66.00" fill="#5e5e5e" stroke="#4a4a4a" stroke-width="0.8"/>
<line x1="331.50" y1="419.40" x2="331.50" y2="432.50" stroke="#222" stroke-width="1"/>
<line x1="330.20" y1="419.50" x2="332.80" y2="419.50" stroke="#222" stroke-width="1"/>
<line x1="330.20" y1="432.50" x2="332.80" y2="432.50" stroke="#222" stroke-width="1"/>
<rect x="370.30" y="466.90" width="18.20" height="25.70" fill="#bdbdbd" stroke="#ababab" stroke-width="0.8"/>
<line x1="379.50" y1="463.10" x2="379.50" y2="470.00" stroke="#333" stroke-width="1"/>
<line x1="378.20" y1="463.50" x2="380.80" y2="463.50" stroke="#333" stroke-width="1"/>
<line x1="378.20" y1="470.50" x2="380.80" y2="470.50" stroke="#333" stroke-width="1"/>
<rect x="417.40" y="449.80" width="17.60" height="42.80" fill="#8c8c8c" stroke="#7a7a7a" stroke-width="0.8"/>
<line x1="426.50" y1="444.90" x2="426.50" y2="453.80" stroke="#333" stroke-width="1"/>
<line x1="425.20" y1="444.50" x2="427.80" y2="444.50" stroke="#333" stroke-width="1"/>
<line x1="425.20" y1="453.50" x2="427.80" y2="453.50" stroke="#333" stroke-width="1"/>
<line x1="331.60" y1="416.50" x2="370.40" y2="416.50" stroke="#2a2a2a" stroke-width="1"/>
<polygon points="380.08,413.80 380.86,415.13 382.36,415.46 381.34,416.61 381.49,418.14 380.08,417.52 378.67,418.14 378.82,416.61 377.80,415.46 379.30,415.13" fill="#1a1a1a"/>
<polygon points="384.72,413.80 385.50,415.13 387.00,415.46 385.98,416.61 386.13,418.14 384.72,417.52 383.31,418.14 383.46,416.61 382.44,415.46 383.94,415.13" fill="#1a1a1a"/>
<line x1="393.00" y1="416.50" x2="425.30" y2="416.50" stroke="#2a2a2a" stroke-width="1"/>
<line x1="379.60" y1="439.50" x2="394.60" y2="439.50" stroke="#2a2a2a" stroke-width="1"/>
<polygon points="400.78,437.00 401.56,438.33 403.06,438.66 402.04,439.81 402.19,441.34 400.78,440.72 399.37,441.34 399.52,439.81 398.50,438.66 400.00,438.33" fill="#1a1a1a"/>
<polygon points="405.02,437.00 405.80,438.33 407.30,438.66 406.28,439.81 406.43,441.34 405.02,440.72 403.61,441.34 403.76,439.81 402.74,438.66 404.24,438.33" fill="#1a1a1a"/>
<line x1="411.50" y1="439.50" x2="427.00" y2="439.50" stroke="#2a2a2a" stroke-width="1"/>
<rect x="473.50" y="400.20" width="8.10" height="6.60" fill="#505050" stroke="#222" stroke-width="1.4"/>
<rect x="473.50" y="411.80" width="8.10" height="5.90" fill="#e2e2e2" stroke="#222" stroke-width="1.4"/>
<rect x="473.50" y="423.00" width="8.10" height="6.60" fill="#8e8e8e" stroke="#222" stroke-width="1.4"/>
</g>
<text x="16.05" y="14.30" font-size="12" font-weight="bold" font-style="normal" fill="#111" stroke="#111" stroke-width="0.4" textLength="7.70" lengthAdjust="spacingAndGlyphs">A</text>
<text x="75.75" y="12.50" font-size="6.4" font-weight="normal" font-style="normal" fill="#333" stroke="#333" stroke-width="0.1" textLength="51.60" lengthAdjust="spacingAndGlyphs">EXPRESSION OF</text>
<text x="83.90" y="20.00" font-size="7" font-weight="normal" font-style="italic" fill="#333" stroke="#333" stroke-width="0.1" textLength="33.95" lengthAdjust="spacingAndGlyphs">N-cadherin</text>
<text x="20.60" y="48.37" font-size="5.2" font-weight="bold" fill="#222" stroke="#222" stroke-width="0.18" text-anchor="end">1.2</text>
<text x="20.60" y="73.12" font-size="5.2" font-weight="bold" fill="#222" stroke="#222" stroke-width="0.18" text-anchor="end">0.8</text>
<text x="20.60" y="98.12" font-size="5.2" font-weight="bold" fill="#222" stroke="#222" stroke-width="0.18" text-anchor="end">0.4</text>
<text x="20.60" y="122.87" font-size="5.2" font-weight="bold" fill="#222" stroke="#222" stroke-width="0.18" text-anchor="end">0.0</text>
<text transform="translate(9.29,109.05) rotate(-90)" x="-0.00" y="0" font-size="5.8" font-weight="normal" fill="#444" stroke="#444" stroke-width="0.12" textLength="49.90" lengthAdjust="spacingAndGlyphs">relative mRNA level</text>
<text x="48.90" y="129.50" font-size="6.4" font-weight="bold" font-style="italic" fill="#111" stroke="#111" stroke-width="0.3" textLength="3.85" lengthAdjust="spacingAndGlyphs">N</text>
<text x="97.15" y="129.50" font-size="6.4" font-weight="bold" font-style="italic" fill="#111" stroke="#111" stroke-width="0.3" textLength="7.75" lengthAdjust="spacingAndGlyphs">VE</text>
<text x="144.15" y="129.50" font-size="6.4" font-weight="bold" font-style="italic" fill="#111" stroke="#111" stroke-width="0.3" textLength="15.36" lengthAdjust="spacingAndGlyphs">N+VE</text>
<text x="264.40" y="12.50" font-size="6.4" font-weight="normal" font-style="normal" fill="#333" stroke="#333" stroke-width="0.1" textLength="49.70" lengthAdjust="spacingAndGlyphs">EXPRESSION OF</text>
<text x="270.65" y="20.00" font-size="7" font-weight="normal" font-style="italic" fill="#333" stroke="#333" stroke-width="0.1" textLength="37.95" lengthAdjust="spacingAndGlyphs">VE-cadherin</text>
<text x="212.80" y="48.77" font-size="5.2" font-weight="bold" fill="#222" stroke="#222" stroke-width="0.18" text-anchor="end">1.6</text>
<text x="212.80" y="67.17" font-size="5.2" font-weight="bold" fill="#222" stroke="#222" stroke-width="0.18" text-anchor="end">1.2</text>
<text x="212.80" y="85.67" font-size="5.2" font-weight="bold" fill="#222" stroke="#222" stroke-width="0.18" text-anchor="end">0.8</text>
<text x="212.80" y="104.17" font-size="5.2" font-weight="bold" fill="#222" stroke="#222" stroke-width="0.18" text-anchor="end">0.4</text>
<text x="212.80" y="122.57" font-size="5.2" font-weight="bold" fill="#222" stroke="#222" stroke-width="0.18" text-anchor="end">0.0</text>
<text transform="translate(202.09,109.45) rotate(-90)" x="-0.00" y="0" font-size="5.8" font-weight="normal" fill="#444" stroke="#444" stroke-width="0.12" textLength="48.40" lengthAdjust="spacingAndGlyphs">relative mRNA level</text>
<text x="239.75" y="129.50" font-size="6.4" font-weight="bold" font-style="italic" fill="#111" stroke="#111" stroke-width="0.3" textLength="2.93" lengthAdjust="spacingAndGlyphs">N</text>
<text x="287.35" y="129.50" font-size="6.4" font-weight="bold" font-style="italic" fill="#111" stroke="#111" stroke-width="0.3" textLength="7.36" lengthAdjust="spacingAndGlyphs">VE</text>
<text x="333.95" y="129.50" font-size="6.4" font-weight="bold" font-style="italic" fill="#111" stroke="#111" stroke-width="0.3" textLength="15.26" lengthAdjust="spacingAndGlyphs">N+VE</text>
<text x="389.25" y="58.50" font-size="12" font-weight="bold" font-style="normal" fill="#111" stroke="#111" stroke-width="0.4" textLength="6.90" lengthAdjust="spacingAndGlyphs">B</text>
<text x="411.15" y="68.40" font-size="6.4" font-weight="bold" font-style="italic" fill="#111" stroke="#111" stroke-width="0.3" textLength="3.61" lengthAdjust="spacingAndGlyphs">N</text>
<text x="431.35" y="68.40" font-size="6.4" font-weight="bold" font-style="italic" fill="#111" stroke="#111" stroke-width="0.3" textLength="7.36" lengthAdjust="spacingAndGlyphs">VE</text>
<text x="447.95" y="68.40" font-size="6.4" font-weight="bold" font-style="italic" fill="#111" stroke="#111" stroke-width="0.3" textLength="16.35" lengthAdjust="spacingAndGlyphs">N+VE</text>
<text x="473.95" y="81.00" font-size="6.1" font-weight="bold" font-style="normal" fill="#222" stroke="#222" stroke-width="0.3" textLength="31.80" lengthAdjust="spacingAndGlyphs">N-cadherin</text>
<text x="472.65" y="98.70" font-size="6.2" font-weight="bold" font-style="normal" fill="#222" stroke="#222" stroke-width="0.3" textLength="36.20" lengthAdjust="spacingAndGlyphs">VE-cadherin</text>
<text x="473.75" y="117.50" font-size="6.4" font-weight="bold" font-style="normal" fill="#222" stroke="#222" stroke-width="0.3" textLength="27.10" lengthAdjust="spacingAndGlyphs"><tspan font-weight="normal" fill="#9a9a9a">α</tspan>-tubulin</text>
<text x="61.15" y="191.90" font-size="12" font-weight="bold" font-style="normal" fill="#111" stroke="#111" stroke-width="0.4" textLength="7.20" lengthAdjust="spacingAndGlyphs">C</text>
<text x="102.40" y="190.60" font-size="6.4" font-weight="bold" font-style="italic" fill="#111" stroke="#111" stroke-width="0.3" textLength="3.61" lengthAdjust="spacingAndGlyphs">N</text>
<text x="122.40" y="190.60" font-size="6.4" font-weight="bold" font-style="italic" fill="#111" stroke="#111" stroke-width="0.3" textLength="7.31" lengthAdjust="spacingAndGlyphs">VE</text>
<text x="144.55" y="190.60" font-size="6.4" font-weight="bold" font-style="italic" fill="#111" stroke="#111" stroke-width="0.3" textLength="15.75" lengthAdjust="spacingAndGlyphs">N+VE</text>
<text x="165.95" y="205.70" font-size="6.2" font-weight="bold" font-style="normal" fill="#222" stroke="#222" stroke-width="0.3" textLength="43.80" lengthAdjust="spacingAndGlyphs">total cadherins</text>
<text x="165.95" y="219.50" font-size="6.4" font-weight="bold" font-style="normal" fill="#222" stroke="#222" stroke-width="0.3" textLength="26.60" lengthAdjust="spacingAndGlyphs"><tspan font-weight="normal" fill="#9a9a9a">α</tspan>-tubulin</text>
<text x="128.65" y="256.50" font-size="7.1" font-weight="normal" font-style="normal" fill="#333" stroke="#333" stroke-width="0.1" textLength="46.20" lengthAdjust="spacingAndGlyphs">total cadherins</text>
<text x="74.20" y="272.50" font-size="5.0" font-weight="bold" fill="#222" stroke="#222" stroke-width="0.18" text-anchor="end">15.0</text>
<text x="74.20" y="297.50" font-size="5.0" font-weight="bold" fill="#222" stroke="#222" stroke-width="0.18" text-anchor="end">10.0</text>
<text x="74.20" y="322.40" font-size="5.0" font-weight="bold" fill="#222" stroke="#222" stroke-width="0.18" text-anchor="end">5.0</text>
<text x="74.20" y="347.30" font-size="5.0" font-weight="bold" fill="#222" stroke="#222" stroke-width="0.18" text-anchor="end">0.0</text>
<text transform="translate(51.38,339.75) rotate(-90)" x="-0.00" y="0" font-size="5.5" font-weight="normal" fill="#4a4a4a" stroke="#4a4a4a" stroke-width="0.12" textLength="62.80" lengthAdjust="spacingAndGlyphs">arbitrary densitometry unit</text>
<text transform="translate(58.68,336.95) rotate(-90)" x="-0.00" y="0" font-size="5.5" font-weight="normal" fill="#4a4a4a" stroke="#4a4a4a" stroke-width="0.12" textLength="56.50" lengthAdjust="spacingAndGlyphs">(pan cadherin/tubulin)</text>
<text x="102.05" y="353.80" font-size="6.4" font-weight="bold" font-style="italic" fill="#111" stroke="#111" stroke-width="0.3" textLength="3.12" lengthAdjust="spacingAndGlyphs">N</text>
<text x="148.85" y="353.80" font-size="6.4" font-weight="bold" font-style="italic" fill="#111" stroke="#111" stroke-width="0.3" textLength="7.17" lengthAdjust="spacingAndGlyphs">VE</text>
<text x="193.55" y="353.80" font-size="6.4" font-weight="bold" font-style="italic" fill="#111" stroke="#111" stroke-width="0.3" textLength="16.15" lengthAdjust="spacingAndGlyphs">N+VE</text>
<text x="321.95" y="178.60" font-size="12" font-weight="bold" font-style="normal" fill="#111" stroke="#111" stroke-width="0.4" textLength="7.30" lengthAdjust="spacingAndGlyphs">D</text>
<text x="335.75" y="191.80" font-size="6.4" font-weight="bold" font-style="italic" fill="#111" stroke="#111" stroke-width="0.3" textLength="2.54" lengthAdjust="spacingAndGlyphs">N</text>
<text x="362.55" y="191.80" font-size="6.4" font-weight="bold" font-style="italic" fill="#111" stroke="#111" stroke-width="0.3" textLength="6.87" lengthAdjust="spacingAndGlyphs">VE</text>
<text x="389.85" y="191.80" font-size="6.4" font-weight="bold" font-style="italic" fill="#111" stroke="#111" stroke-width="0.3" textLength="15.95" lengthAdjust="spacingAndGlyphs">N+VE</text>
<text x="415.25" y="208.20" font-size="6.2" font-weight="bold" font-style="normal" fill="#222" stroke="#222" stroke-width="0.3" textLength="54.50" lengthAdjust="spacingAndGlyphs">cleaved caspase-3</text>
<text x="414.85" y="231.00" font-size="6.4" font-weight="bold" font-style="normal" fill="#222" stroke="#222" stroke-width="0.3" textLength="26.20" lengthAdjust="spacingAndGlyphs"><tspan font-weight="normal" fill="#9a9a9a">α</tspan>-tubulin</text>
<text x="367.85" y="257.00" font-size="7.2" font-weight="normal" font-style="normal" fill="#333" stroke="#333" stroke-width="0.1" textLength="59.70" lengthAdjust="spacingAndGlyphs">cleaved caspase-3</text>
<text x="324.30" y="348.70" font-size="5.0" font-weight="bold" fill="#222" stroke="#222" stroke-width="0.18" text-anchor="end">0</text>
<text x="324.30" y="338.51" font-size="5.0" font-weight="bold" fill="#222" stroke="#222" stroke-width="0.18" text-anchor="end">2</text>
<text x="324.30" y="328.32" font-size="5.0" font-weight="bold" fill="#222" stroke="#222" stroke-width="0.18" text-anchor="end">4</text>
<text x="324.30" y="318.14" font-size="5.0" font-weight="bold" fill="#222" stroke="#222" stroke-width="0.18" text-anchor="end">6</text>
<text x="324.30" y="307.95" font-size="5.0" font-weight="bold" fill="#222" stroke="#222" stroke-width="0.18" text-anchor="end">8</text>
<text x="324.30" y="297.76" font-size="5.0" font-weight="bold" fill="#222" stroke="#222" stroke-width="0.18" text-anchor="end">10</text>
<text x="324.30" y="287.57" font-size="5.0" font-weight="bold" fill="#222" stroke="#222" stroke-width="0.18" text-anchor="end">12</text>
<text x="324.30" y="277.38" font-size="5.0" font-weight="bold" fill="#222" stroke="#222" stroke-width="0.18" text-anchor="end">14</text>
<text x="324.30" y="267.20" font-size="5.0" font-weight="bold" fill="#222" stroke="#222" stroke-width="0.18" text-anchor="end">16</text>
<text transform="translate(303.55,340.65) rotate(-90)" x="-0.00" y="0" font-size="5.7" font-weight="normal" fill="#444" stroke="#444" stroke-width="0.12" textLength="66.10" lengthAdjust="spacingAndGlyphs">arbitrary densitometry unit</text>
<text transform="translate(311.25,342.55) rotate(-90)" x="-0.00" y="0" font-size="5.7" font-weight="normal" fill="#444" stroke="#444" stroke-width="0.12" textLength="69.90" lengthAdjust="spacingAndGlyphs">(cleaved caspase-3/tubulin)</text>
<text x="349.35" y="356.20" font-size="6.4" font-weight="bold" font-style="italic" fill="#111" stroke="#111" stroke-width="0.3" textLength="2.93" lengthAdjust="spacingAndGlyphs">N</text>
<text x="397.45" y="356.20" font-size="6.4" font-weight="bold" font-style="italic" fill="#111" stroke="#111" stroke-width="0.3" textLength="7.66" lengthAdjust="spacingAndGlyphs">VE</text>
<text x="442.95" y="356.20" font-size="6.4" font-weight="bold" font-style="italic" fill="#111" stroke="#111" stroke-width="0.3" textLength="15.65" lengthAdjust="spacingAndGlyphs">N+VE</text>
<text x="25.25" y="399.50" font-size="12" font-weight="bold" font-style="normal" fill="#111" stroke="#111" stroke-width="0.4" textLength="6.60" lengthAdjust="spacingAndGlyphs">E</text>
<text x="85.55" y="398.50" font-size="8.8" font-weight="normal" font-style="normal" fill="#333" stroke="#333" stroke-width="0.1" textLength="70.50" lengthAdjust="spacingAndGlyphs">PROLIFERATION</text>
<text x="39.70" y="501.40" font-size="5.0" font-weight="bold" fill="#222" stroke="#222" stroke-width="0.18" text-anchor="end">0</text>
<text x="39.70" y="489.77" font-size="5.0" font-weight="bold" fill="#222" stroke="#222" stroke-width="0.18" text-anchor="end">2</text>
<text x="39.70" y="478.14" font-size="5.0" font-weight="bold" fill="#222" stroke="#222" stroke-width="0.18" text-anchor="end">4</text>
<text x="39.70" y="466.52" font-size="5.0" font-weight="bold" fill="#222" stroke="#222" stroke-width="0.18" text-anchor="end">6</text>
<text x="39.70" y="454.89" font-size="5.0" font-weight="bold" fill="#222" stroke="#222" stroke-width="0.18" text-anchor="end">8</text>
<text x="39.70" y="443.26" font-size="5.0" font-weight="bold" fill="#222" stroke="#222" stroke-width="0.18" text-anchor="end">10</text>
<text x="39.70" y="431.63" font-size="5.0" font-weight="bold" fill="#222" stroke="#222" stroke-width="0.18" text-anchor="end">12</text>
<text x="39.70" y="420.00" font-size="5.0" font-weight="bold" fill="#222" stroke="#222" stroke-width="0.18" text-anchor="end">14</text>
<text transform="translate(19.05,477.55) rotate(-90)" x="-0.00" y="0" font-size="5.7" font-weight="normal" fill="#555" stroke="#555" stroke-width="0.12" textLength="35.00" lengthAdjust="spacingAndGlyphs">arbitrary unit</text>
<text transform="translate(25.78,478.55) rotate(-90)" x="-0.00" y="0" font-size="5.5" font-weight="normal" fill="#555" stroke="#555" stroke-width="0.12" textLength="38.10" lengthAdjust="spacingAndGlyphs">(fold increase)</text>
<text x="63" y="507.6" font-size="6.2" font-weight="bold" fill="#111" stroke="#111" stroke-width="0.2" text-anchor="middle">1</text>
<text x="97.5" y="507.6" font-size="6.2" font-weight="bold" fill="#111" stroke="#111" stroke-width="0.2" text-anchor="middle">3</text>
<text x="134.7" y="507.6" font-size="6.2" font-weight="bold" fill="#111" stroke="#111" stroke-width="0.2" text-anchor="middle">5</text>
<text x="171.1" y="507.6" font-size="6.2" font-weight="bold" fill="#111" stroke="#111" stroke-width="0.2" text-anchor="middle">7</text>
<text x="92.95" y="515.80" font-size="6.2" font-weight="normal" font-style="normal" fill="#333" stroke="#333" stroke-width="0.1" textLength="54.50" lengthAdjust="spacingAndGlyphs">DAYS IN CULTURE</text>
<text x="210.85" y="415.20" font-size="6.1" font-weight="normal" font-style="italic" fill="#333" stroke="#333" stroke-width="0.25" textLength="18.00" lengthAdjust="spacingAndGlyphs">N cells</text>
<text x="211.15" y="426.30" font-size="6.1" font-weight="normal" font-style="italic" fill="#333" stroke="#333" stroke-width="0.25" textLength="21.60" lengthAdjust="spacingAndGlyphs">VE cells</text>
<text x="211.15" y="437.60" font-size="6.1" font-weight="normal" font-style="italic" fill="#333" stroke="#333" stroke-width="0.25" textLength="29.70" lengthAdjust="spacingAndGlyphs">N+VE cells</text>
<text x="278.85" y="402.30" font-size="12" font-weight="bold" font-style="normal" fill="#111" stroke="#111" stroke-width="0.4" textLength="5.80" lengthAdjust="spacingAndGlyphs">F</text>
<text x="352.05" y="404.70" font-size="8.8" font-weight="normal" font-style="normal" fill="#333" stroke="#333" stroke-width="0.1" textLength="49.30" lengthAdjust="spacingAndGlyphs">MIGRATION</text>
<text x="303.50" y="494.26" font-size="4.9" font-weight="bold" fill="#222" stroke="#222" stroke-width="0.18" text-anchor="end">0</text>
<text x="303.50" y="485.24" font-size="4.9" font-weight="bold" fill="#222" stroke="#222" stroke-width="0.18" text-anchor="end">20</text>
<text x="303.50" y="476.22" font-size="4.9" font-weight="bold" fill="#222" stroke="#222" stroke-width="0.18" text-anchor="end">40</text>
<text x="303.50" y="467.20" font-size="4.9" font-weight="bold" fill="#222" stroke="#222" stroke-width="0.18" text-anchor="end">60</text>
<text x="303.50" y="458.18" font-size="4.9" font-weight="bold" fill="#222" stroke="#222" stroke-width="0.18" text-anchor="end">80</text>
<text x="303.50" y="449.15" font-size="4.9" font-weight="bold" fill="#222" stroke="#222" stroke-width="0.18" text-anchor="end">100</text>
<text x="303.50" y="440.13" font-size="4.9" font-weight="bold" fill="#222" stroke="#222" stroke-width="0.18" text-anchor="end">120</text>
<text x="303.50" y="431.11" font-size="4.9" font-weight="bold" fill="#222" stroke="#222" stroke-width="0.18" text-anchor="end">140</text>
<text x="303.50" y="422.09" font-size="4.9" font-weight="bold" fill="#222" stroke="#222" stroke-width="0.18" text-anchor="end">160</text>
<text x="303.50" y="413.07" font-size="4.9" font-weight="bold" fill="#222" stroke="#222" stroke-width="0.18" text-anchor="end">180</text>
<text transform="translate(285.02,473.15) rotate(-90)" x="-0.00" y="0" font-size="5.9" font-weight="normal" fill="#666" stroke="#666" stroke-width="0.12" textLength="33.40" lengthAdjust="spacingAndGlyphs">µm wounded</text>
<text x="327.15" y="503.30" font-size="6.4" font-weight="bold" font-style="italic" fill="#111" stroke="#111" stroke-width="0.3" textLength="3.32" lengthAdjust="spacingAndGlyphs">N</text>
<text x="375.65" y="503.30" font-size="6.4" font-weight="bold" font-style="italic" fill="#111" stroke="#111" stroke-width="0.3" textLength="7.17" lengthAdjust="spacingAndGlyphs">VE</text>
<text x="422.45" y="503.30" font-size="6.4" font-weight="bold" font-style="italic" fill="#111" stroke="#111" stroke-width="0.3" textLength="14.96" lengthAdjust="spacingAndGlyphs">N+VE</text>
<text x="486.25" y="405.80" font-size="6.1" font-weight="normal" font-style="italic" fill="#333" stroke="#333" stroke-width="0.25" textLength="18.10" lengthAdjust="spacingAndGlyphs">N cells</text>
<text x="486.95" y="416.90" font-size="6.1" font-weight="normal" font-style="italic" fill="#333" stroke="#333" stroke-width="0.25" textLength="21.40" lengthAdjust="spacingAndGlyphs">VE cells</text>
<text x="486.65" y="428.40" font-size="6.1" font-weight="normal" font-style="italic" fill="#333" stroke="#333" stroke-width="0.25" textLength="30.10" lengthAdjust="spacingAndGlyphs">N+VE cells</text>
</svg>
</body></html>
